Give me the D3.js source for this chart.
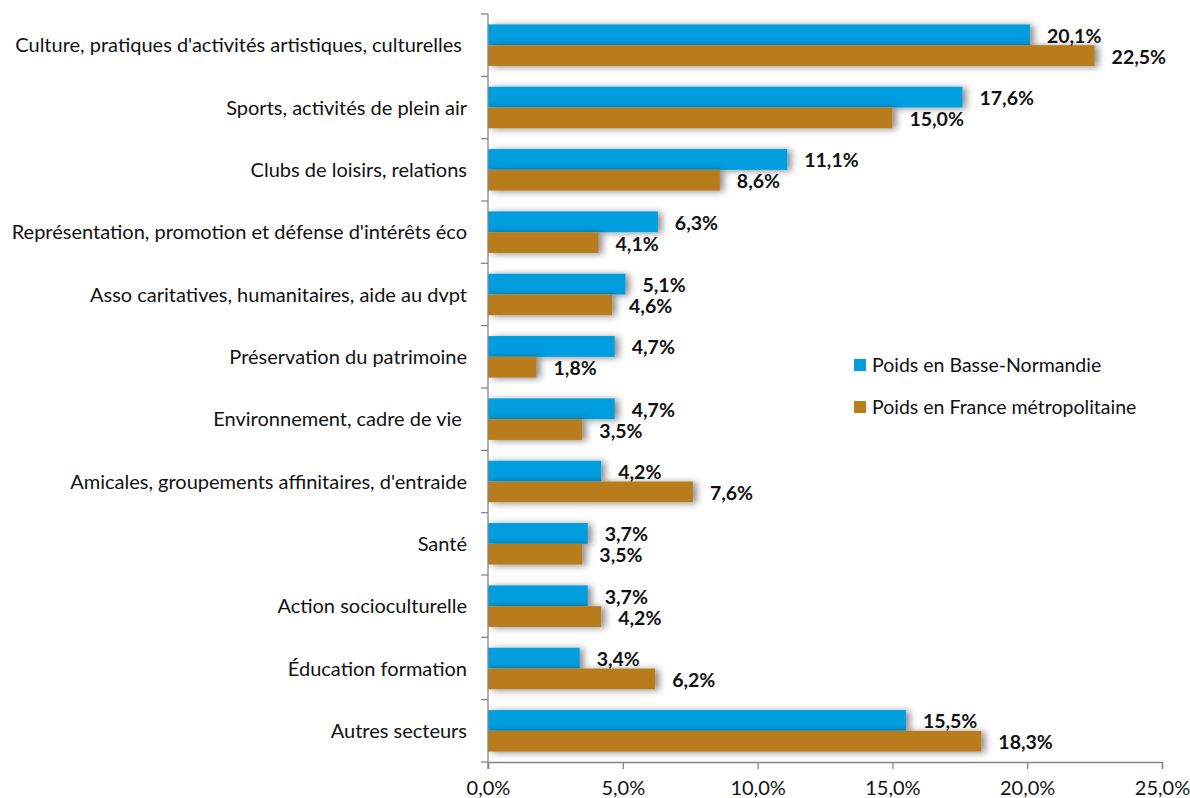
<!DOCTYPE html>
<html>
<head>
<meta charset="utf-8">
<script src="https://cdn.jsdelivr.net/npm/d3@7"></script>
<style>
  body { margin: 0; background: #fff; }
  text { font-family: Lato, "Open Sans", sans-serif; }
</style>
</head>
<body>
<div id="chart"></div>
<script>
const categories = [
    "Culture, pratiques d'activités artistiques, culturelles ",
    "Sports, activités de plein air",
    "Clubs de loisirs, relations",
    "Représentation, promotion et défense d'intérêts éco",
    "Asso caritatives, humanitaires, aide au dvpt",
    "Préservation du patrimoine",
    "Environnement, cadre de vie ",
    "Amicales, groupements affinitaires, d'entraide",
    "Santé",
    "Action socioculturelle",
    "Éducation formation",
    "Autres secteurs"
];
const basseNormandie = [20.1, 17.6, 11.1, 6.3, 5.1, 4.7, 4.7, 4.2, 3.7, 3.7, 3.4, 15.5];
const franceMetro = [22.5, 15.0, 8.6, 4.1, 4.6, 1.8, 3.5, 7.6, 3.5, 4.2, 6.2, 18.3];
const seriesNames = ["Poids en Basse-Normandie", "Poids en France métropolitaine"];
const seriesColors = ["#009ddf", "#b97c1f"];
const xTicks = [0, 5, 10, 15, 20, 25];

const W = 1190, H = 798;
const margin = {top: 14, right: 28, bottom: 36, left: 488};
const fontSize = 20;

const svg = d3.select("#chart").append("svg")
    .attr("width", W)
    .attr("height", H);

const defs = svg.append("defs");
const f = defs.append("filter").attr("id", "shadow")
    .attr("x", "-10%").attr("y", "-60%").attr("width", "130%").attr("height", "220%");
f.append("feDropShadow")
    .attr("dx", 4).attr("dy", 1).attr("stdDeviation", 3.5)
    .attr("flood-color", "#000").attr("flood-opacity", 0.45);

const x = d3.scaleLinear()
    .domain([0, 25])
    .range([margin.left, W - margin.right]);

const y = d3.scaleBand()
    .domain(categories)
    .range([margin.top, H - margin.bottom])
    .paddingInner(0).paddingOuter(0);

const sub = d3.scaleBand()
    .domain([0, 1])
    .range([0, y.bandwidth()])
    .paddingOuter(0.5).paddingInner(0);

const fmt = (d) => d3.format(".1f")(d).replace(".", ",") + "%";

// bars
const rows = categories.map((c, i) => ({cat: c, vals: [basseNormandie[i], franceMetro[i]]}));
const groups = svg.append("g").selectAll("g")
    .data(rows)
    .join("g")
        .attr("transform", (d) => `translate(0,${y(d.cat)})`);

groups.selectAll("rect")
    .data((d) => d.vals.map((v, k) => ({v, k})))
    .join("rect")
        .attr("x", x(0))
        .attr("y", (d) => sub(d.k))
        .attr("width", (d) => x(d.v) - x(0))
        .attr("height", sub.bandwidth())
        .attr("fill", (d) => seriesColors[d.k])
        .attr("filter", "url(#shadow)");

groups.selectAll("text")
    .data((d) => d.vals.map((v, k) => ({v, k})))
    .join("text")
        .attr("x", (d) => x(d.v) + 17)
        .attr("y", (d) => sub(d.k) + sub.bandwidth() / 2 + 1)
        .attr("dy", "0.36em")
        .attr("font-size", 19.5)
        .attr("font-weight", "bold")
        .attr("fill", "#111")
        .text((d) => fmt(d.v));

// left axis
const yAxis = svg.append("g")
    .attr("transform", `translate(${x(0)},0)`);
yAxis.append("line")
    .attr("y1", y.range()[0]).attr("y2", y.range()[1] + 7)
    .attr("stroke", "#868686").attr("stroke-width", 1.3);
yAxis.selectAll(".tk")
    .data(categories.map((c) => y(c)).concat([y.range()[1]]))
    .join("line")
        .attr("x1", -7).attr("x2", 0)
        .attr("y1", (d) => d).attr("y2", (d) => d)
        .attr("stroke", "#868686").attr("stroke-width", 1.3);
yAxis.selectAll("text")
    .data(categories)
    .join("text")
        .attr("x", -21)
        .attr("y", (d) => y(d) + y.bandwidth() / 2)
        .attr("dy", "0.35em")
        .attr("text-anchor", "end")
        .attr("font-size", fontSize)
        .attr("fill", "#111")
        .style("white-space", "pre")
        .text((d) => d);

// bottom axis
const xAxis = svg.append("g")
    .attr("transform", `translate(0,${y.range()[1]})`)
    .call(d3.axisBottom(x).tickValues(xTicks).tickFormat(fmt).tickSize(7).tickPadding(12));
xAxis.select(".domain").attr("stroke", "#868686").attr("stroke-width", 1.3);
xAxis.selectAll(".tick line").attr("stroke", "#868686").attr("stroke-width", 1.3);
xAxis.selectAll(".tick text")
    .attr("font-family", "Lato, 'Open Sans', sans-serif")
    .attr("font-size", fontSize)
    .attr("fill", "#111");

// legend
const legend = svg.append("g")
    .attr("transform", "translate(854,365)");
const li = legend.selectAll("g")
    .data(seriesNames)
    .join("g")
        .attr("transform", (d, i) => `translate(0,${i * 42})`);
li.append("rect")
    .attr("x", 0).attr("y", -6)
    .attr("width", 12).attr("height", 12)
    .attr("fill", (d, i) => seriesColors[i]);
li.append("text")
    .attr("x", 18)
    .attr("dy", "0.35em")
    .attr("font-size", 19.5)
    .attr("fill", "#111")
    .text((d) => d);
</script>
</body>
</html>
